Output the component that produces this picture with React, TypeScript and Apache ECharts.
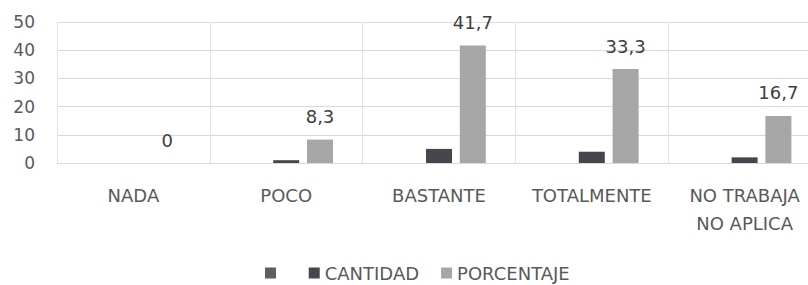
import React, { useEffect, useRef } from "react";
import * as echarts from "echarts";

const categories = ["NADA", "POCO", "BASTANTE", "TOTALMENTE", "NO TRABAJA\nNO APLICA"];
const blankSeries = [0, 0, 0, 0, 0];
const cantidad = [0, 1, 5, 4, 2];
const porcentaje = [0, 8.3, 41.7, 33.3, 16.7];
const yTicks = { min: 0, max: 50, interval: 10 };

const FONT = "'DejaVu Sans', 'Noto Sans', sans-serif";

export default function App() {
  const ref = useRef<HTMLDivElement>(null);
  useEffect(() => {
    if (!ref.current) return;
    const chart = echarts.init(ref.current, null, { renderer: "svg" });
    chart.setOption({
      animation: false,
      textStyle: { fontFamily: FONT },
      grid: { left: 57, top: 22, bottom: 122, right: 0, containLabel: false },
      legend: {
        left: 265,
        top: 263,
        padding: 0,
        itemWidth: 11,
        itemHeight: 11,
        itemGap: 22,
        icon: "rect",
        textStyle: { fontSize: 18, lineHeight: 20, color: "#595959", fontFamily: FONT },
        data: [" ", "CANTIDAD", "PORCENTAJE"],
      },
      xAxis: {
        type: "category",
        data: categories,
        axisLine: { show: true, lineStyle: { color: "#d9d9d9" } },
        axisTick: { show: false },
        splitLine: { show: true, lineStyle: { color: "#e2e2e2" } },
        axisLabel: {
          color: "#595959",
          fontSize: 18,
          lineHeight: 28,
          margin: 18,
          interval: 0,
          fontFamily: FONT,
        },
      },
      yAxis: {
        type: "value",
        min: yTicks.min,
        max: yTicks.max,
        interval: yTicks.interval,
        axisLine: { show: false },
        axisTick: { show: false },
        splitLine: { show: true, lineStyle: { color: "#d9d9d9" } },
        axisLabel: { color: "#595959", fontSize: 17, margin: 22, fontFamily: FONT },
      },
      series: [
        {
          name: " ",
          type: "bar",
          data: blankSeries,
          barWidth: 26,
          barGap: "30%",
          itemStyle: { color: "#5e5e5e" },
        },
        {
          name: "CANTIDAD",
          type: "bar",
          data: cantidad,
          barWidth: 26,
          barGap: "30%",
          itemStyle: { color: "#48454f" },
        },
        {
          name: "PORCENTAJE",
          type: "bar",
          data: porcentaje,
          barWidth: 26,
          barGap: "30%",
          itemStyle: { color: "#a6a6a6" },
          label: {
            show: true,
            position: "top",
            distance: 14,
            fontSize: 18,
            color: "#404040",
            fontFamily: FONT,
            formatter: (p: any) => String(p.value).replace(".", ","),
          },
        },
      ],
    });
    return () => chart.dispose();
  }, []);
  return (
    <div
      style={{
        position: "absolute",
        left: 0,
        top: 0,
        width: 808,
        height: 285,
        overflow: "hidden",
        background: "#fff",
      }}
    >
      <div ref={ref} style={{ width: 821, height: 285 }} />
    </div>
  );
}
